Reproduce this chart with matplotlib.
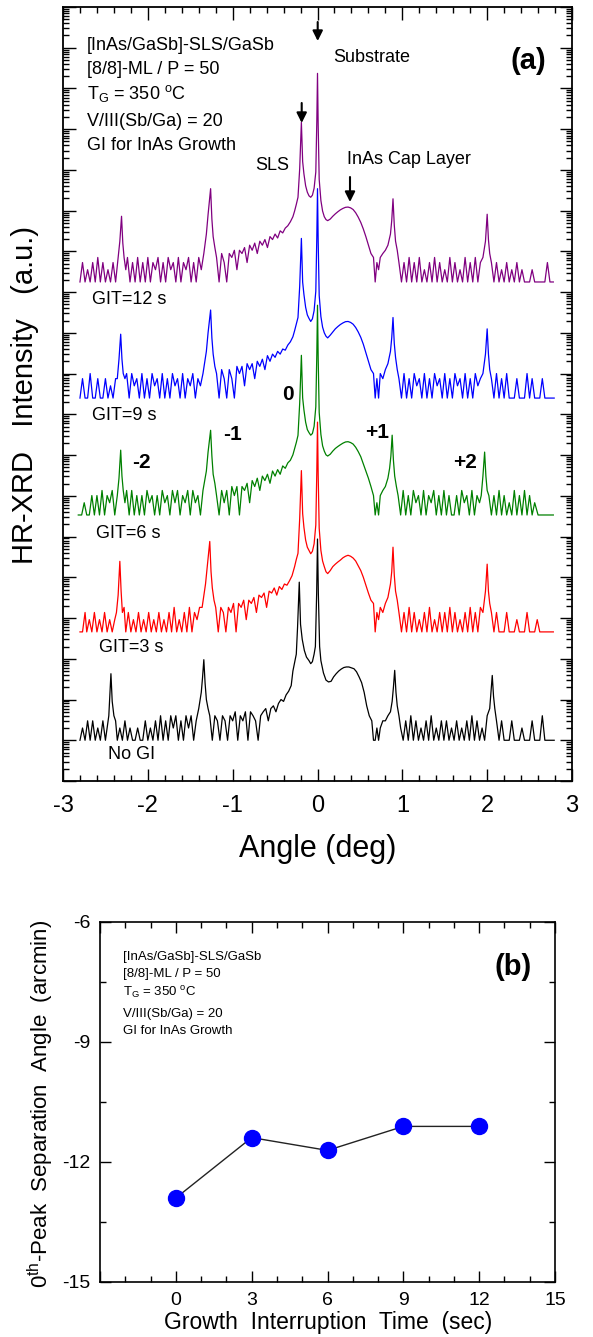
import numpy as np
import matplotlib
matplotlib.use("Agg")
import matplotlib.pyplot as plt
from matplotlib.ticker import MultipleLocator, LogLocator, NullFormatter

plt.rcParams['font.family'] = ['Liberation Sans', 'DejaVu Sans']
plt.rcParams['mathtext.default'] = 'regular'
plt.rcParams['axes.unicode_minus'] = False

# ---- panel (a): HR-XRD scans, (angle deg, counts) ----
no_gi = [
    (-2.80,1),(-2.77,2),(-2.74,1),(-2.71,3),(-2.68,1),(-2.65,3),(-2.62,1),(-2.59,2),(-2.56,1),(-2.53,3),(-2.50,1),(-2.48,2),
    (-2.46,4),(-2.45,10),(-2.435,43),(-2.42,9),(-2.40,4),(-2.38,3),(-2.36,1),
    (-2.33,2),(-2.30,1),(-2.27,3),(-2.24,1),(-2.21,2),(-2.18,1),(-2.15,1),(-2.12,2),(-2.09,1),(-2.06,1),(-2.03,3),(-2.00,1),
    (-1.97,2),(-1.94,1),(-1.91,3),(-1.88,1),(-1.85,4),(-1.82,1),(-1.79,3),(-1.76,1),(-1.73,4),(-1.70,2),(-1.67,4),(-1.64,1),
    (-1.61,3),(-1.58,1),(-1.55,4),(-1.52,2),(-1.49,4),(-1.46,1),(-1.43,3),
    (-1.40,6),(-1.37,15),(-1.355,35),(-1.34,95),(-1.325,25),(-1.31,10),(-1.29,6),
    (-1.27,4),(-1.24,1),(-1.21,4),(-1.18,3),(-1.15,1),(-1.12,4),(-1.09,3),(-1.06,1),(-1.03,4),(-1.00,3),(-0.97,5),(-0.94,1),
    (-0.91,4),(-0.88,3),(-0.85,5),(-0.82,1),(-0.79,5),(-0.76,4),(-0.73,3),(-0.70,1),(-0.67,4),(-0.64,5),(-0.61,6),(-0.58,3),
    (-0.55,6),(-0.52,7),(-0.49,5),(-0.46,8),(-0.43,10),(-0.40,9),(-0.37,13),(-0.34,16),(-0.31,22),(-0.29,50),(-0.27,80),(-0.25,130),
    (-0.235,600),(-0.215,7600),(-0.20,700),(-0.18,300),(-0.155,160),(-0.13,110),(-0.10,90),(-0.08,76),(-0.06,85),(-0.04,130),
    (-0.025,200),(-0.01,4000),(0.0,87000),(0.01,4000),(0.025,200),(0.04,90),(0.07,45),(0.10,30),(0.13,27),
    (0.16,28),(0.19,36),(0.22,43),(0.25,50),(0.28,56),(0.31,61),(0.34,63),(0.37,63),(0.40,60),(0.43,57),(0.46,48),(0.49,36),
    (0.52,26),(0.55,15),(0.58,7),(0.61,4),(0.64,3),(0.66,1),(0.68,1),(0.70,2),(0.72,1),(0.74,2),(0.77,3),(0.80,3),(0.83,4),
    (0.86,5),(0.88,9),
    (0.895,20),(0.91,52),(0.925,15),(0.94,7),(0.96,4),(0.98,2),
    (1.01,1),(1.04,3),(1.07,1),(1.10,4),(1.13,1),(1.16,3),(1.19,1),(1.22,2),(1.25,1),(1.28,3),(1.31,1),(1.34,4),(1.37,1),
    (1.40,2),(1.43,1),(1.46,3),(1.49,1),(1.52,3),(1.55,1),(1.58,2),(1.61,1),(1.64,3),(1.67,1),(1.70,2),(1.73,1),(1.76,3),
    (1.79,1),(1.82,4),(1.85,1),(1.88,3),(1.91,1),(1.94,2),(1.97,1),(2.00,4),
    (2.03,6),(2.045,15),(2.06,39),(2.075,12),(2.09,6),(2.11,3),
    (2.14,1),(2.17,3),(2.20,1),(2.26,1),(2.29,3),(2.32,1),(2.38,1),(2.41,2),(2.44,1),(2.50,1),(2.53,3),(2.56,1),(2.62,1),
    (2.65,4),(2.68,1),(2.74,1),(2.79,1)]

git_3s = [
    (-2.80,1),(-2.77,1),(-2.74,3),(-2.72,1),(-2.69,2),(-2.66,1),(-2.63,3),(-2.60,1),(-2.57,2),(-2.54,1),(-2.51,3),(-2.48,1),
    (-2.45,2),(-2.42,1),(-2.39,2),
    (-2.37,3),(-2.35,8),(-2.33,54),(-2.315,10),(-2.30,3),(-2.28,4),(-2.26,1),
    (-2.23,3),(-2.20,1),(-2.17,2),(-2.14,1),(-2.11,3),(-2.08,1),(-2.05,2),(-2.02,1),(-1.99,3),(-1.96,1),(-1.93,2),(-1.90,1),
    (-1.87,3),(-1.84,1),(-1.81,2),(-1.78,1),(-1.75,3),(-1.72,1),(-1.69,4),(-1.66,1),(-1.63,2),(-1.60,1),(-1.57,3),(-1.54,1),
    (-1.51,4),(-1.48,1),(-1.45,3),(-1.42,2),(-1.39,4),
    (-1.36,4),(-1.32,15),(-1.30,40),(-1.27,166),(-1.255,30),(-1.24,12),(-1.22,6),
    (-1.20,4),(-1.17,1),(-1.14,4),(-1.11,3),(-1.08,1),(-1.05,4),(-1.02,3),(-0.99,5),(-0.96,1),(-0.93,5),(-0.90,4),(-0.87,6),
    (-0.84,2),(-0.81,6),(-0.78,5),(-0.75,7),(-0.72,3),(-0.69,8),(-0.66,7),(-0.63,9),(-0.60,4),(-0.57,10),(-0.54,9),(-0.51,12),
    (-0.48,8),(-0.45,13),(-0.42,11),(-0.39,15),(-0.36,14),(-0.33,18),(-0.30,24),(-0.27,40),(-0.25,60),(-0.23,85),
    (-0.21,600),(-0.19,9100),(-0.175,800),(-0.16,370),(-0.14,180),(-0.12,120),(-0.10,100),(-0.08,83),(-0.06,95),(-0.04,145),
    (-0.02,420),(-0.008,9000),(0.0,141000),(0.008,7000),(0.02,350),(0.04,100),(0.06,55),(0.08,40),(0.10,30),(0.12,27),
    (0.15,32),(0.18,40),(0.21,46),(0.24,52),(0.27,58),(0.30,66),(0.33,72),(0.36,76),(0.39,72),(0.42,65),(0.45,55),(0.48,42),
    (0.51,32),(0.54,22),(0.57,14),(0.60,9),(0.63,6),(0.66,5),(0.68,1),(0.70,3),(0.72,2),(0.74,4),(0.77,3),(0.80,5),(0.83,7),
    (0.86,15),
    (0.875,30),(0.89,120),(0.905,25),(0.92,10),(0.94,6),(0.96,3),
    (0.99,1),(1.02,3),(1.05,1),(1.08,4),(1.11,1),(1.14,3),(1.17,1),(1.20,2),(1.23,1),(1.26,3),(1.29,1),(1.32,4),(1.35,1),
    (1.38,2),(1.41,1),(1.44,3),(1.47,1),(1.50,3),(1.53,1),(1.56,4),(1.59,1),(1.62,3),(1.65,1),(1.68,2),(1.71,1),(1.74,3),
    (1.77,1),(1.80,4),(1.83,1),(1.86,3),(1.89,1),(1.92,4),
    (1.95,3),(1.98,10),(2.00,46),(2.015,10),(2.03,5),(2.05,3),
    (2.08,1),(2.11,3),(2.14,1),(2.20,1),(2.23,3),(2.26,1),(2.32,1),(2.35,2),(2.38,1),(2.44,1),(2.47,3),(2.50,1),(2.56,1),
    (2.59,2),(2.62,1),(2.70,1),(2.78,1)]

git_6s = [
    (-2.82,1),(-2.78,1),(-2.75,2),(-2.72,1),(-2.69,1),(-2.66,3),(-2.63,1),(-2.60,3),(-2.57,1),(-2.54,4),(-2.51,1),(-2.48,3),
    (-2.45,2),(-2.42,4),(-2.39,1),
    (-2.36,3),(-2.34,8),(-2.32,39),(-2.305,9),(-2.29,4),(-2.27,2),(-2.25,4),
    (-2.22,1),(-2.19,4),(-2.16,1),(-2.13,3),(-2.10,1),(-2.07,3),(-2.04,1),(-2.01,4),(-1.98,2),(-1.95,3),(-1.92,1),(-1.89,3),
    (-1.86,1),(-1.83,4),(-1.80,2),(-1.77,3),(-1.74,1),(-1.71,4),(-1.68,2),(-1.65,4),(-1.62,1),(-1.59,3),(-1.56,2),(-1.53,4),
    (-1.50,1),(-1.47,4),(-1.44,2),(-1.41,3),(-1.38,1),
    (-1.35,4),(-1.31,12),(-1.29,35),(-1.26,120),(-1.245,28),(-1.23,10),(-1.21,6),
    (-1.19,3),(-1.16,1),(-1.13,4),(-1.10,2),(-1.07,4),(-1.04,1),(-1.01,5),(-0.98,3),(-0.95,5),(-0.92,1),(-0.89,5),(-0.86,4),
    (-0.83,6),(-0.80,2),(-0.77,7),(-0.74,5),(-0.71,8),(-0.68,4),(-0.65,9),(-0.62,7),(-0.59,10),(-0.56,6),(-0.53,12),(-0.50,9),
    (-0.47,13),(-0.44,10),(-0.41,16),(-0.38,14),(-0.35,19),(-0.32,22),(-0.29,30),(-0.27,42),(-0.25,60),(-0.23,90),
    (-0.21,550),(-0.19,8300),(-0.175,750),(-0.16,380),(-0.14,190),(-0.12,125),(-0.10,105),(-0.08,91),(-0.06,100),(-0.04,150),
    (-0.02,450),(-0.008,9000),(0.0,141000),(0.008,7000),(0.02,330),(0.04,95),(0.06,50),(0.08,37),(0.10,30),(0.12,28),
    (0.15,31),(0.18,37),(0.21,43),(0.24,48),(0.27,53),(0.30,58),(0.33,62),(0.36,63),(0.39,60),(0.42,55),(0.45,46),(0.48,36),
    (0.51,27),(0.54,18),(0.57,12),(0.60,8),(0.63,5),(0.66,3),(0.68,1),(0.70,2),(0.72,1),(0.74,3),(0.77,4),(0.80,5),(0.83,8),
    (0.85,14),
    (0.865,28),(0.88,91),(0.895,22),(0.91,9),(0.93,5),(0.95,3),
    (0.98,1),(1.01,4),(1.04,1),(1.07,3),(1.10,1),(1.13,4),(1.16,2),(1.19,3),(1.22,1),(1.25,4),(1.28,1),(1.31,3),(1.34,2),
    (1.37,4),(1.40,1),(1.43,3),(1.46,1),(1.49,4),(1.52,1),(1.55,3),(1.58,1),(1.61,1),(1.64,3),(1.67,1),(1.70,4),(1.73,2),
    (1.76,3),(1.79,1),(1.82,4),(1.85,1),(1.88,3),(1.91,2),
    (1.93,3),(1.95,9),(1.97,35),(1.985,9),(2.00,4),(2.02,3),
    (2.05,1),(2.08,3),(2.11,1),(2.14,4),(2.17,1),(2.20,3),(2.23,1),(2.26,2),(2.29,1),(2.32,4),(2.35,1),(2.38,3),(2.41,1),
    (2.44,4),(2.47,1),(2.50,3),(2.53,1),(2.56,2),(2.60,1),(2.66,1),(2.72,1),(2.78,1)]

git_9s = [
    (-2.80,1),(-2.77,3),(-2.74,1),(-2.71,1),(-2.68,4),(-2.65,1),(-2.62,1),(-2.59,3),(-2.56,1),(-2.53,1),(-2.50,3),(-2.47,1),
    (-2.44,2),(-2.41,1),(-2.38,3),
    (-2.36,3),(-2.34,9),(-2.32,37),(-2.305,9),(-2.29,4),(-2.27,3),(-2.25,4),
    (-2.22,1),(-2.19,4),(-2.16,2),(-2.13,3),(-2.10,1),(-2.07,4),(-2.04,1),(-2.01,3),(-1.98,1),(-1.95,4),(-1.92,2),(-1.89,3),
    (-1.86,1),(-1.83,4),(-1.80,1),(-1.77,3),(-1.74,1),(-1.71,4),(-1.68,2),(-1.65,3),(-1.62,1),(-1.59,4),(-1.56,1),(-1.53,3),
    (-1.50,2),(-1.47,4),(-1.44,1),(-1.41,3),(-1.38,2),
    (-1.35,4),(-1.31,14),(-1.29,40),(-1.26,145),(-1.245,30),(-1.23,12),(-1.21,6),
    (-1.19,4),(-1.16,1),(-1.13,5),(-1.10,3),(-1.07,1),(-1.04,5),(-1.01,3),(-0.98,1),(-0.95,6),(-0.92,4),(-0.89,6),(-0.86,2),
    (-0.83,7),(-0.80,5),(-0.77,7),(-0.74,3),(-0.71,8),(-0.68,6),(-0.65,9),(-0.62,5),(-0.59,11),(-0.56,8),(-0.53,12),(-0.50,10),
    (-0.47,14),(-0.44,12),(-0.41,16),(-0.38,15),(-0.35,20),(-0.32,24),(-0.29,32),(-0.27,45),(-0.25,65),(-0.23,95),
    (-0.21,550),(-0.19,8300),(-0.175,700),(-0.16,350),(-0.14,170),(-0.12,110),(-0.10,90),(-0.08,76),(-0.06,88),(-0.04,140),
    (-0.02,420),(-0.008,9000),(0.0,138000),(0.008,7000),(0.02,330),(0.04,100),(0.06,55),(0.08,40),(0.10,33),(0.12,30),
    (0.15,35),(0.18,42),(0.21,50),(0.24,57),(0.27,64),(0.30,70),(0.33,75),(0.36,76),(0.39,72),(0.42,65),(0.45,54),(0.48,42),
    (0.51,31),(0.54,21),(0.57,13),(0.60,8),(0.63,5),(0.66,4),(0.68,1),(0.70,3),(0.72,1),(0.74,4),(0.77,3),(0.80,5),(0.83,7),
    (0.86,14),
    (0.875,30),(0.89,95),(0.905,22),(0.92,10),(0.94,5),(0.96,3),
    (0.99,1),(1.02,4),(1.05,1),(1.08,3),(1.11,1),(1.14,4),(1.17,2),(1.20,3),(1.23,1),(1.26,4),(1.29,1),(1.32,3),(1.35,1),
    (1.38,4),(1.41,2),(1.44,3),(1.47,1),(1.50,4),(1.53,1),(1.56,3),(1.59,1),(1.62,4),(1.65,2),(1.68,3),(1.71,1),(1.74,4),
    (1.77,1),(1.80,3),(1.83,1),(1.86,4),(1.89,2),(1.92,3),
    (1.95,4),(1.98,12),(2.00,50),(2.015,12),(2.03,5),(2.05,3),
    (2.08,1),(2.11,4),(2.14,1),(2.17,3),(2.20,1),(2.23,4),(2.26,1),(2.32,1),(2.35,3),(2.38,1),(2.44,1),(2.47,4),(2.50,1),
    (2.53,3),(2.56,1),(2.62,1),(2.65,3),(2.68,1),(2.74,1),(2.79,1)]

git_12s = [
    (-2.80,1),(-2.77,3),(-2.74,1),(-2.71,2),(-2.68,1),(-2.65,3),(-2.62,1),(-2.59,4),(-2.56,1),(-2.53,3),(-2.50,1),(-2.47,2),
    (-2.44,1),(-2.41,3),(-2.38,1),
    (-2.35,4),(-2.33,10),(-2.31,41),(-2.295,9),(-2.28,4),(-2.26,2),(-2.24,4),
    (-2.21,1),(-2.18,3),(-2.15,1),(-2.12,4),(-2.09,1),(-2.06,3),(-2.03,1),(-2.00,4),(-1.97,1),(-1.94,3),(-1.91,2),(-1.88,4),
    (-1.85,1),(-1.82,3),(-1.79,1),(-1.76,4),(-1.73,2),(-1.70,3),(-1.67,1),(-1.64,4),(-1.61,1),(-1.58,3),(-1.55,2),(-1.52,4),
    (-1.49,1),(-1.46,3),(-1.43,1),(-1.40,4),(-1.37,2),
    (-1.34,5),(-1.31,15),(-1.29,45),(-1.26,195),(-1.245,35),(-1.23,13),(-1.21,7),
    (-1.19,4),(-1.16,1),(-1.13,5),(-1.10,3),(-1.07,1),(-1.04,5),(-1.01,4),(-0.98,6),(-0.95,2),(-0.92,6),(-0.89,5),(-0.86,7),
    (-0.83,3),(-0.80,8),(-0.77,6),(-0.74,9),(-0.71,5),(-0.68,10),(-0.65,8),(-0.62,11),(-0.59,7),(-0.56,13),(-0.53,11),
    (-0.50,15),(-0.47,12),(-0.44,18),(-0.41,16),(-0.38,21),(-0.35,24),(-0.32,30),(-0.29,40),(-0.27,55),(-0.25,80),(-0.23,120),
    (-0.21,600),(-0.19,8300),(-0.175,900),(-0.16,450),(-0.14,230),(-0.12,160),(-0.10,130),(-0.08,120),(-0.06,135),(-0.04,200),
    (-0.02,500),(-0.008,9000),(0.0,132000),(0.008,7000),(0.02,330),(0.04,100),(0.06,55),(0.08,40),(0.10,34),(0.12,32),
    (0.15,35),(0.18,41),(0.21,47),(0.24,53),(0.27,59),(0.30,64),(0.33,68),(0.36,69),(0.39,66),(0.42,60),(0.45,50),(0.48,39),
    (0.51,29),(0.54,20),(0.57,13),(0.60,8),(0.63,5),(0.66,4),(0.68,1),(0.70,3),(0.72,2),(0.74,4),(0.77,5),(0.80,6),(0.83,8),
    (0.86,15),
    (0.875,32),(0.89,110),(0.905,25),(0.92,10),(0.94,6),(0.96,3),
    (0.99,1),(1.02,3),(1.05,1),(1.08,4),(1.11,1),(1.14,3),(1.17,1),(1.20,4),(1.23,1),(1.26,2),(1.29,1),(1.32,3),(1.35,1),
    (1.38,4),(1.41,1),(1.44,3),(1.47,1),(1.50,2),(1.53,1),(1.56,4),(1.59,1),(1.62,3),(1.65,1),(1.68,2),(1.71,1),(1.74,4),
    (1.77,1),(1.80,3),(1.83,1),(1.86,4),(1.89,1),(1.92,3),
    (1.95,4),(1.98,10),(2.00,46),(2.015,11),(2.03,5),(2.05,3),
    (2.08,1),(2.11,3),(2.14,1),(2.17,2),(2.20,1),(2.23,3),(2.26,1),(2.29,2),(2.32,1),(2.35,3),(2.38,1),(2.41,2),(2.44,1),
    (2.50,1),(2.53,2),(2.56,1),(2.62,1),(2.68,1),(2.71,3),(2.74,1),(2.78,1)]

scan_labels = ['No GI', 'GIT=3 s', 'GIT=6 s', 'GIT=9 s', 'GIT=12 s']
info_lines = ['[InAs/GaSb]-SLS/GaSb', '[8/8]-ML / P = 50', 'T$_G$ = 350 $^o$C',
              'V/III(Sb/Ga) = 20', 'GI for InAs Growth']
order_labels = ['-2', '-1', '0', '+1', '+2']

# ---- panel (b): 0th-peak separation ----
git_time = [0, 3, 6, 9, 12]
peak_sep = [-12.9, -11.39, -11.71, -11.11, -11.11]

# ---------------------------------------------------------------
W, H = 593, 1337
def fx(px):
    return px / W
def fy(py):
    return 1 - py / H

fig = plt.figure(figsize=(W / 100, H / 100), dpi=100)

ax = fig.add_axes([fx(63), fy(781), (572 - 63) / W, (781 - 7) / H])
scans = [no_gi, git_3s, git_6s, git_9s, git_12s]
colors = ['black', '#ff0000', '#008000', '#0000ff', '#800080']
shifts = [1.0, 3.66, 6.53, 9.40, 12.25]   # vertical stacking in decades
for data, c, s in zip(scans, colors, shifts):
    a = np.array(data)
    ax.plot(a[:, 0], a[:, 1] * 10 ** s, color=c, lw=0.9)

ax.set_yscale('log')
ax.set_xlim(-3, 3)
ax.set_ylim(1, 1e19)
ax.xaxis.set_major_locator(MultipleLocator(1))
ax.xaxis.set_minor_locator(MultipleLocator(0.2))
ax.yaxis.set_major_locator(LogLocator(base=10, numticks=40))
ax.yaxis.set_minor_locator(LogLocator(base=10, subs=np.arange(2, 10), numticks=40))
ax.yaxis.set_major_formatter(NullFormatter())
ax.yaxis.set_minor_formatter(NullFormatter())
ax.tick_params(which='both', direction='in', top=True, right=True, width=1)
ax.tick_params(which='major', length=9, labelsize=17, pad=10)
ax.tick_params(which='minor', length=4.5)
for sp in ax.spines.values():
    sp.set_linewidth(1.3)

fig.text(fx(25), fy(395), 'HR-XRD   Intensity   (a.u.)', rotation=90, fontsize=21,
         ha='center', va='center')
fig.text(fx(318), fy(849), 'Angle (deg)', fontsize=22, ha='center', va='center')

for i, t in enumerate(info_lines):
    fig.text(fx(87), fy([45, 69, 94, 121, 145][i]), t, fontsize=13, va='center')
fig.text(fx(528), fy(61), '(a)', fontsize=21, fontweight='bold', ha='center', va='center')
fig.text(fx(333), fy(58), 'Substrate', fontsize=13, va='center')
fig.text(fx(272), fy(165), 'SLS', fontsize=13, ha='center', va='center')
fig.text(fx(347), fy(160), 'InAs Cap Layer', fontsize=13, va='center')

arrow = dict(arrowstyle='-|>', color='k', lw=1.5, mutation_scale=15, shrinkA=0, shrinkB=0)
for xp, y0, y1 in [(317.7, 22, 41), (301.7, 103, 123), (350, 177, 202)]:
    ax.annotate('', xy=(fx(xp), fy(y1)), xytext=(fx(xp), fy(y0)),
                xycoords='figure fraction', textcoords='figure fraction', arrowprops=arrow)

for t, (xp, yp) in zip(scan_labels, [(108, 755), (99, 647), (96, 533), (92, 415), (92, 300)]):
    fig.text(fx(xp), fy(yp), t, fontsize=13, va='center')
for t, (xp, yp) in zip(order_labels, [(141, 462), (232, 435), (288, 395), (377, 432), (465, 462)]):
    fig.text(fx(xp), fy(yp), t, fontsize=15, fontweight='bold', ha='center', va='center')

# ---- panel (b) ----
bx = fig.add_axes([fx(100), fy(1282), (555 - 100) / W, (1282 - 922) / H])
bx.plot(git_time, peak_sep, '-', color='#222222', lw=1.0, zorder=2)
bx.plot(git_time, peak_sep, 'o', ms=11.5, mfc='#0000ff', mec='#0000ff', zorder=3)
bx.set_xlim(-3, 15)
bx.set_ylim(-15, -6)
bx.set_xticks([-3, 0, 3, 6, 9, 12, 15])
bx.set_xticklabels(['', '0', '3', '6', '9', '12', '15'])
bx.set_yticks([-15, -12, -9, -6])
bx.xaxis.set_minor_locator(MultipleLocator(1))
bx.yaxis.set_minor_locator(MultipleLocator(1.5))
bx.tick_params(which='both', direction='in', top=True, right=True, width=1)
bx.tick_params(which='major', length=8, labelsize=14, pad=7)
bx.tick_params(which='minor', length=4)
for sp in bx.spines.values():
    sp.set_linewidth(1.2)

fig.text(fx(41), fy(1104), '0$^{th}$-Peak  Separation  Angle  (arcmin)', rotation=90,
         fontsize=16, ha='center', va='center')
fig.text(fx(328), fy(1322), 'Growth  Interruption  Time  (sec)', fontsize=16.5,
         ha='center', va='center')
for i, t in enumerate(info_lines):
    fig.text(fx(123), fy([957, 974, 993, 1014, 1031][i]), t, fontsize=9.5, va='center')
fig.text(fx(513), fy(967), '(b)', fontsize=21, fontweight='bold', ha='center', va='center')

fig.savefig('out.png', dpi=100)
